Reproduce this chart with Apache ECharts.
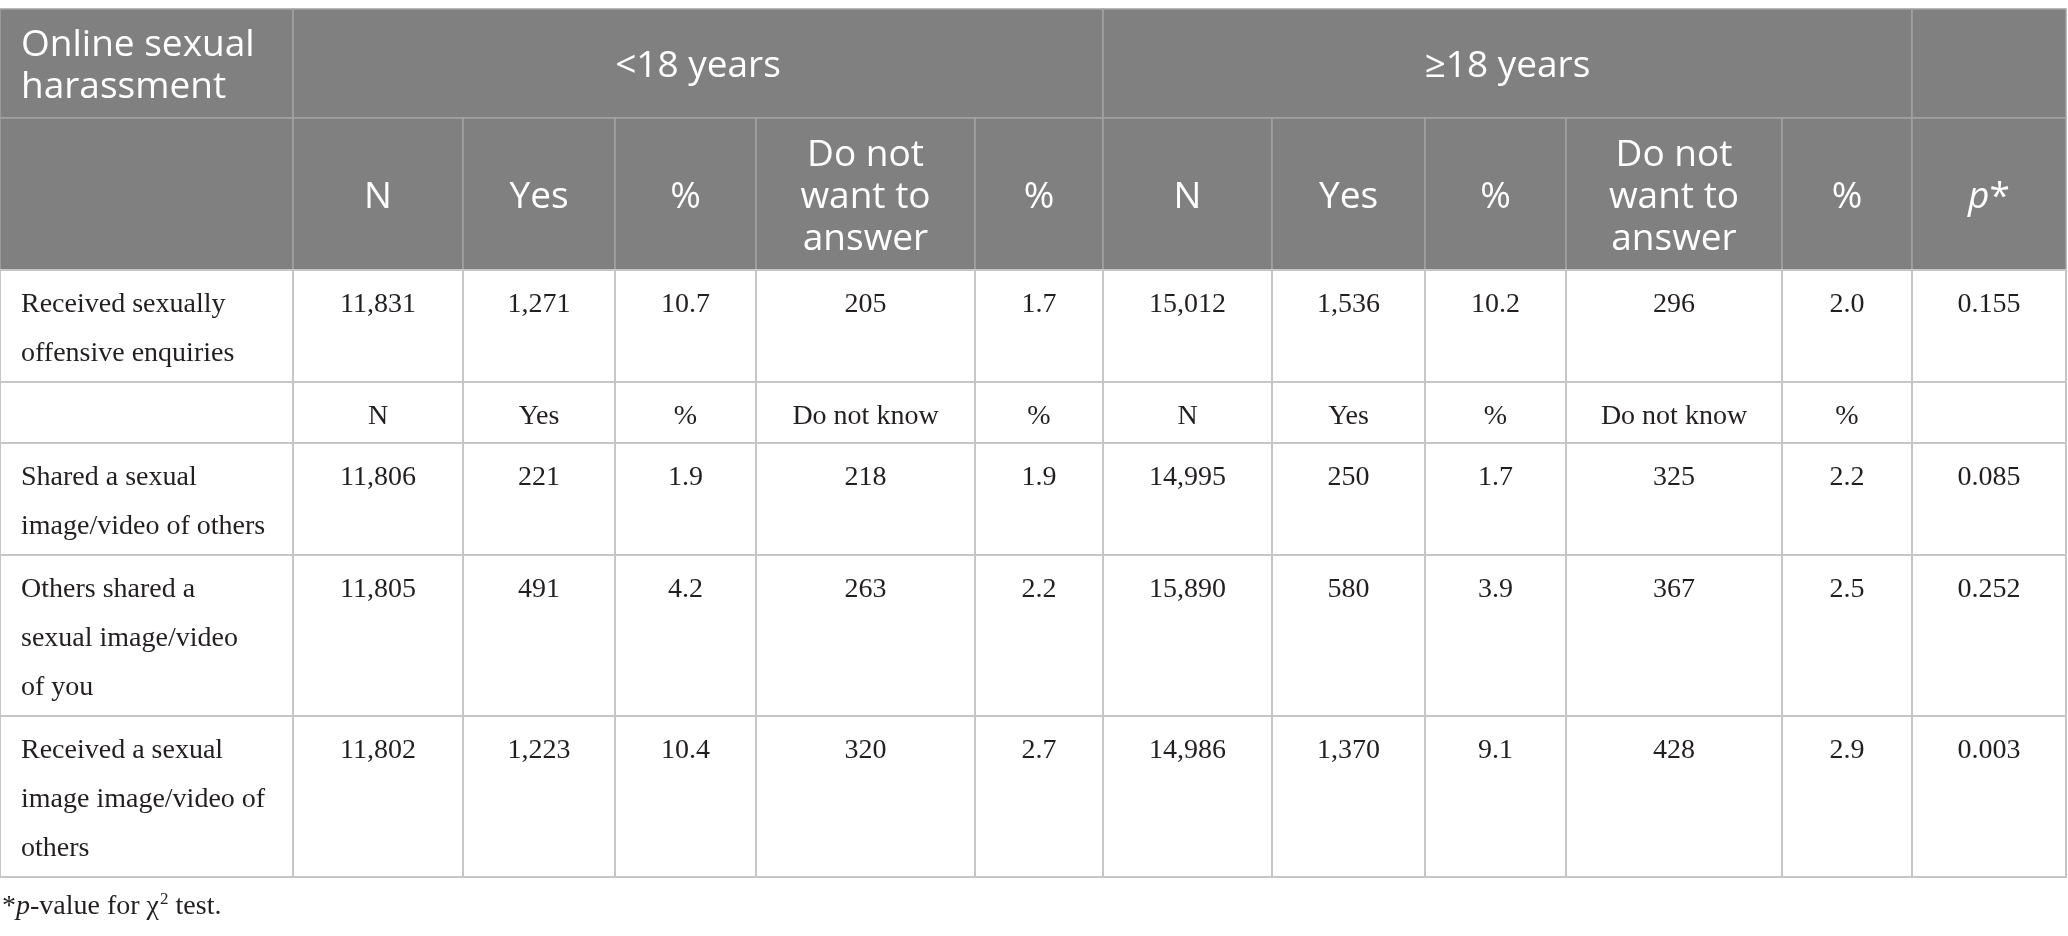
<!DOCTYPE html>
<html>
<head>
<meta charset="utf-8">
<script src="https://cdn.jsdelivr.net/npm/echarts@6/dist/echarts.min.js"></script>
<style>
  html, body { margin: 0; padding: 0; background: #fff; }
  #main { width: 2068px; height: 936px; }
</style>
</head>
<body>
<div id="main"></div>
<script>
// table content
var groupHeaders = ["<18 years", "≥18 years"];
var subHeaders = ["N", "Yes", "%", "Do not\nwant to\nanswer", "%"];
var subHeadersKnow = ["N", "Yes", "%", "Do not know", "%"];
var rowLabels = [
    "Received sexually\noffensive enquiries",
    "Shared a sexual\nimage/video of others",
    "Others shared a\nsexual image/video\nof you",
    "Received a sexual\nimage image/video of\nothers"
];
var under18N = [11831, 11806, 11805, 11802];
var under18Yes = [1271, 221, 491, 1223];
var under18Pct = [10.7, 1.9, 4.2, 10.4];
var under18NoAns = [205, 218, 263, 320];
var under18NoAnsPct = [1.7, 1.9, 2.2, 2.7];
var adultN = [15012, 14995, 15890, 14986];
var adultYes = [1536, 250, 580, 1370];
var adultPct = [10.2, 1.7, 3.9, 9.1];
var adultNoAns = [296, 325, 367, 428];
var adultNoAnsPct = [2.0, 2.2, 2.5, 2.9];
var pValues = [0.155, 0.085, 0.252, 0.003];

// layout (pixel grid lines of the table)
var COL_X = [0, 293, 463, 615, 756, 975, 1103, 1272, 1425, 1566, 1782, 1912, 2066];
var ROW_Y = [9, 118, 270, 382, 443, 555, 716, 877, 936];
var HEAD_BG = "#7f807f";
var HEAD_LINE = "#a2a3a2";
var BODY_LINE = "#c6c6c6";
var SANS = "'Open Sans', 'Noto Sans', sans-serif";
var SERIF = "'Liberation Serif', 'DejaVu Serif', serif";

function fmtInt(v) { return v.toLocaleString("en-US"); }
function fmtPct(v) { return v.toFixed(1); }

// build the cell list
var cells = [];
function addCell(c0, c1, r0, r1, text, kind, opts) {
    cells.push(Object.assign({ c0: c0, c1: c1, r0: r0, r1: r1, text: text, kind: kind }, opts || {}));
}
// header row 1
addCell(0, 1, 0, 1, "Online sexual\nharassment", "head", { align: "left" });
addCell(1, 6, 0, 1, groupHeaders[0], "head");
addCell(6, 11, 0, 1, groupHeaders[1], "head");
addCell(11, 12, 0, 1, "", "head");
// header row 2
addCell(0, 1, 1, 2, "", "head");
subHeaders.concat(subHeaders).forEach(function (t, i) {
    addCell(1 + i, 2 + i, 1, 2, t, "head");
});
addCell(11, 12, 1, 2, "{i|p}*", "head", { rich: true });

var bodyRows = [2, 4, 5, 6];
rowLabels.forEach(function (label, i) {
    var r = bodyRows[i];
    var vals = [
        fmtInt(under18N[i]), fmtInt(under18Yes[i]), fmtPct(under18Pct[i]),
        fmtInt(under18NoAns[i]), fmtPct(under18NoAnsPct[i]),
        fmtInt(adultN[i]), fmtInt(adultYes[i]), fmtPct(adultPct[i]),
        fmtInt(adultNoAns[i]), fmtPct(adultNoAnsPct[i]),
        pValues[i].toFixed(3)
    ];
    addCell(0, 1, r, r + 1, label, "body", { align: "left" });
    vals.forEach(function (v, j) {
        addCell(1 + j, 2 + j, r, r + 1, v, "body");
    });
});
// sub-header row inside the body
addCell(0, 1, 3, 4, "", "body");
subHeadersKnow.concat(subHeadersKnow).forEach(function (t, i) {
    addCell(1 + i, 2 + i, 3, 4, t, "body");
});
addCell(11, 12, 3, 4, "", "body");
// footnote
addCell(0, 12, 7, 8, "*{i|p}-value for χ{s|2} test.", "note", { align: "left", rich: true });

function renderCell(params, api) {
    var cell = cells[params.dataIndex];
    var p0 = api.coord([api.value(0), api.value(2)]);
    var p1 = api.coord([api.value(1), api.value(3)]);
    var x = p0[0], y = p0[1], w = p1[0] - p0[0], h = p1[1] - p0[1];
    var children = [];
    var isHead = cell.kind === "head";
    if (cell.kind !== "note") {
        children.push({
            type: "rect",
            shape: { x: x, y: y, width: w, height: h },
            style: {
                fill: isHead ? HEAD_BG : "#fff",
                stroke: isHead ? HEAD_LINE : BODY_LINE,
                lineWidth: isHead ? 1.5 : 2
            }
        });
    }
    if (cell.text) {
        var left = cell.align === "left";
        var tx = left ? x + (cell.kind === "note" ? 2 : 21) : x + w / 2;
        var style = {
            text: cell.text,
            x: tx,
            align: left ? "left" : "center",
            fill: isHead ? "#ffffff" : "#231f20",
            fontSize: isHead ? 37 : 28,
            fontFamily: isHead ? SANS : SERIF,
            lineHeight: isHead ? 42 : 49
        };
        if (isHead) {
            style.y = y + h / 2 + 3;
            style.verticalAlign = "middle";
        } else if (cell.kind === "note") {
            style.y = y + h / 2;
            style.verticalAlign = "middle";
        } else {
            style.y = y + 10;
            style.verticalAlign = "top";
        }
        if (cell.rich) {
            style.rich = {
                i: { fontStyle: "italic", fontSize: style.fontSize, fontFamily: style.fontFamily, fill: style.fill },
                s: { fontSize: 17, fontFamily: style.fontFamily, fill: style.fill, padding: [0, 0, 14, 1] }
            };
        }
        children.push({ type: "text", style: style });
    }
    return { type: "group", children: children };
}

var chart = echarts.init(document.getElementById("main"), null, { renderer: "canvas" });
chart.setOption({
    animation: false,
    backgroundColor: "#ffffff",
    grid: { left: 0, right: 0, top: 0, bottom: 0 },
    xAxis: { type: "value", min: 0, max: 2068, show: false },
    yAxis: { type: "value", min: 0, max: 936, inverse: true, show: false },
    series: [{
        type: "custom",
        silent: true,
        clip: false,
        renderItem: renderCell,
        encode: { x: [0, 1], y: [2, 3] },
        data: cells.map(function (c) {
            return [COL_X[c.c0], COL_X[c.c1], ROW_Y[c.r0], ROW_Y[c.r1]];
        })
    }]
});
</script>
</body>
</html>
